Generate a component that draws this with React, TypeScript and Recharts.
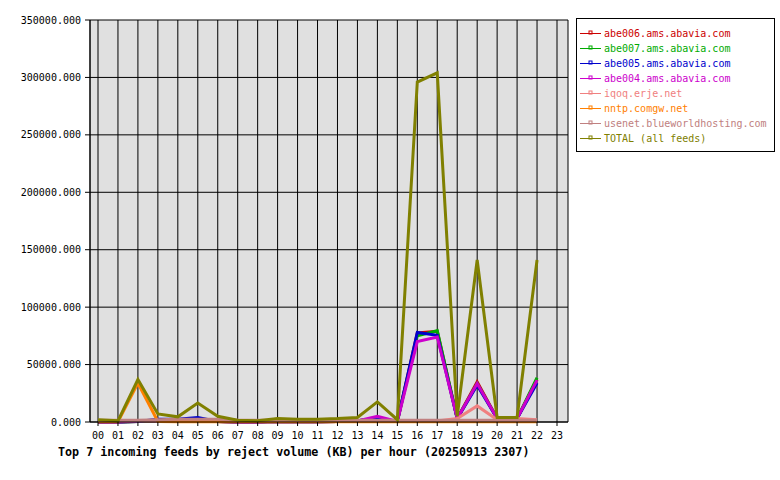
import React from 'react';
import { LineChart, Line, XAxis, YAxis, CartesianGrid } from 'recharts';

// hours on the axis (00..23), data only up to 22
const hours = [0, 1, 2, 3, 4, 5, 6, 7, 8, 9, 10, 11, 12, 13, 14, 15, 16, 17, 18, 19, 20, 21, 22, 23];
const hourLabels = ['00', '01', '02', '03', '04', '05', '06', '07', '08', '09', '10', '11', '12', '13', '14', '15', '16', '17', '18', '19', '20', '21', '22', '23'];
const yTicks = [0, 50000, 100000, 150000, 200000, 250000, 300000, 350000];

// reject volume (KB) per hour, 00..22
const abe006 = [0, 0, 500, 1000, 1500, 2000, 500, 0, 0, 500, 300, 300, 500, 1000, 3000, 500, 77500, 79000, 3000, 35000, 3000, 3000, 37000];
const abe007 = [0, 0, 500, 1000, 1500, 2000, 500, 0, 0, 500, 300, 300, 500, 1000, 3000, 500, 75000, 79500, 3000, 33500, 3000, 3000, 38500];
const abe005 = [0, 0, 500, 2500, 2500, 4000, 500, 0, 0, 500, 300, 300, 500, 1000, 3000, 500, 78000, 75500, 3000, 32000, 3000, 3000, 34000];
const abe004 = [0, 0, 1000, 1000, 1500, 2000, 500, 0, 0, 500, 300, 300, 500, 1000, 5000, 500, 70000, 74000, 3000, 33500, 3000, 3000, 36500];
const iqoq = [800, 800, 800, 800, 800, 800, 800, 800, 800, 800, 800, 800, 800, 800, 800, 800, 800, 800, 3000, 14000, 2000, 3000, 2000];
const nntp = [300, 300, 34000, 500, 300, 300, 300, 300, 300, 300, 300, 300, 300, 300, 300, 300, 300, 300, 300, 300, 300, 300, 300];
const usenet = [1500, 1500, 1500, 2000, 2500, 2500, 2500, 1500, 1500, 1500, 1500, 1500, 1500, 1500, 1500, 1500, 1500, 1500, 1500, 1500, 1500, 1500, 1500];
const total = [2000, 1000, 37000, 7000, 4500, 16500, 5000, 1500, 1000, 3000, 2500, 2500, 3000, 4000, 17500, 2000, 296000, 304000, 5000, 141000, 4000, 4000, 141000];

const feeds = [
  { key: 'abe006', name: 'abe006.ams.abavia.com', color: '#cc0000', values: abe006 },
  { key: 'abe007', name: 'abe007.ams.abavia.com', color: '#00aa00', values: abe007 },
  { key: 'abe005', name: 'abe005.ams.abavia.com', color: '#0000cc', values: abe005 },
  { key: 'abe004', name: 'abe004.ams.abavia.com', color: '#cc00cc', values: abe004 },
  { key: 'iqoq', name: 'iqoq.erje.net', color: '#f08080', values: iqoq },
  { key: 'nntp', name: 'nntp.comgw.net', color: '#ff8000', values: nntp },
  { key: 'usenet', name: 'usenet.blueworldhosting.com', color: '#c08080', values: usenet },
  { key: 'total', name: 'TOTAL (all feeds)', color: '#808000', values: total },
];

const data = total.map((_, i) => {
  const row: Record<string, number> = { hour: hours[i] };
  feeds.forEach((f) => {
    row[f.key] = f.values[i];
  });
  return row;
});

const mono = '"DejaVu Sans Mono", monospace';

function FeedLegend() {
  return (
    <div
      style={{
        position: 'absolute',
        left: 576,
        top: 18,
        width: 199,
        height: 134,
        border: '1px solid #000',
        background: '#fff',
        fontFamily: mono,
        fontSize: 10,
        paddingTop: 7,
        boxSizing: 'border-box',
      }}
    >
      {feeds.map((f) => (
        <div key={f.key} style={{ height: 15, display: 'flex', alignItems: 'center', color: f.color }}>
          <svg width={24} height={15} style={{ marginLeft: 3 }}>
            <line x1={0} y1={7.5} x2={21} y2={7.5} stroke={f.color} strokeWidth={1} />
            <rect x={9} y={5} width={3} height={3} fill="none" stroke={f.color} strokeWidth={1} />
          </svg>
          <span>{f.name}</span>
        </div>
      ))}
    </div>
  );
}

export default function App() {
  return (
    <div style={{ position: 'absolute', left: 0, top: 0, width: 780, height: 480, background: '#fff' }}>
      <LineChart width={780} height={480} data={data} margin={{ top: 20, right: 212, bottom: 38, left: 0 }}>
        <CartesianGrid stroke="#000" fill="#e0e0e0" fillOpacity={1} />
        <XAxis
          dataKey="hour"
          type="number"
          domain={[0, 23]}
          ticks={hours}
          interval={0}
          padding={{ left: 8, right: 11 }}
          tickFormatter={(v) => hourLabels[v]}
          height={20}
          tickSize={4}
          tickMargin={6}
          axisLine={{ stroke: '#000' }}
          tickLine={{ stroke: '#000' }}
          tick={{ fill: '#000', fontFamily: mono, fontSize: 10 }}
        />
        <YAxis
          domain={[0, 350000]}
          ticks={yTicks}
          interval={0}
          width={90}
          tickSize={5}
          tickMargin={4}
          tickFormatter={(v) => v.toFixed(3)}
          axisLine={{ stroke: '#000' }}
          tickLine={{ stroke: '#000' }}
          tick={{ fill: '#000', fontFamily: mono, fontSize: 10 }}
        />
        <YAxis
          yAxisId="right"
          orientation="right"
          domain={[0, 350000]}
          width={0}
          tick={false}
          tickLine={false}
          axisLine={{ stroke: '#000' }}
        />
        {feeds.map((f) => (
          <Line
            key={f.key}
            type="linear"
            dataKey={f.key}
            name={f.name}
            stroke={f.color}
            strokeWidth={3}
            dot={false}
            isAnimationActive={false}
          />
        ))}
      </LineChart>
      <FeedLegend />
      <div
        style={{
          position: 'absolute',
          left: 58,
          top: 445,
          fontFamily: mono,
          fontWeight: 'bold',
          fontSize: 11.7,
          lineHeight: '14px',
          color: '#000',
          whiteSpace: 'nowrap',
        }}
      >
        Top 7 incoming feeds by reject volume (KB) per hour (20250913 2307)
      </div>
    </div>
  );
}
